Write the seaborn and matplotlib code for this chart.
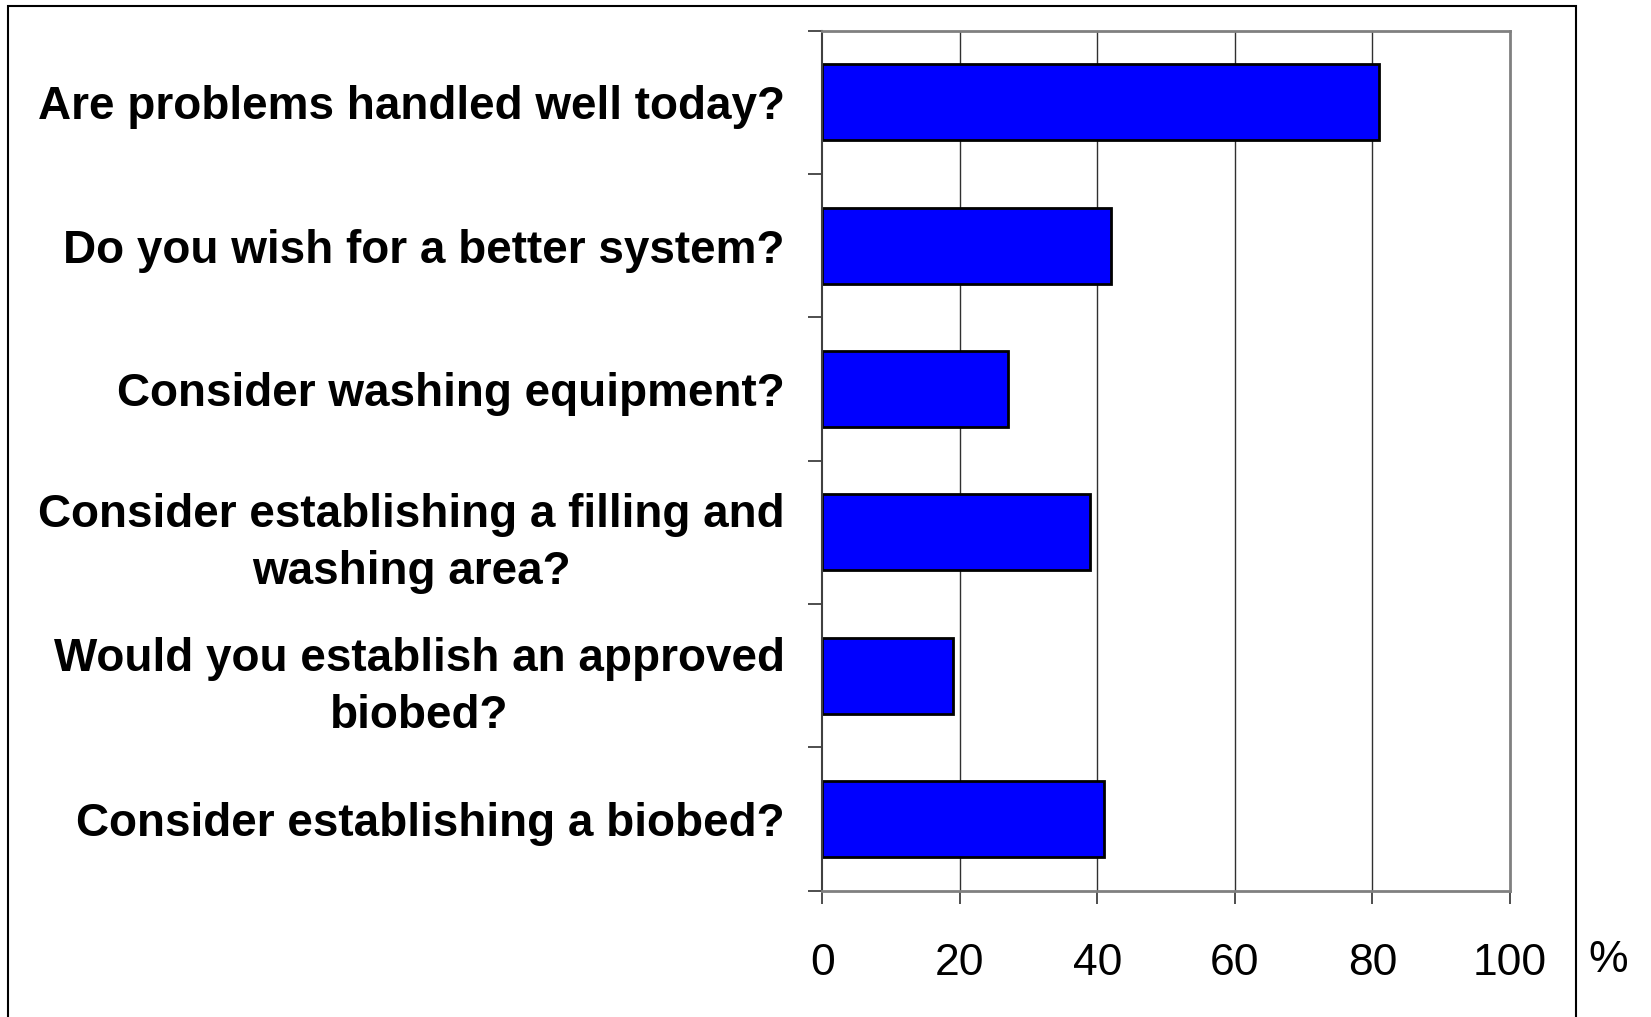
import pandas as pd
import matplotlib
matplotlib.use("Agg")
import matplotlib.pyplot as plt
import matplotlib.patches as patches
import seaborn as sns

# Data
questions = [
    "Are problems handled well today?",
    "Do you wish for a better system?",
    "Consider washing equipment?",
    "Consider establishing a filling and\nwashing area?",
    "Would you establish an approved\nbiobed?",
    "Consider establishing a biobed?",
]
percent = [81, 42, 27, 39, 19, 41]
x_ticks = [0, 20, 40, 60, 80, 100]

df = pd.DataFrame({"Question": questions, "Percent": percent})

sns.set_style("white")
plt.rcParams["font.family"] = ["Liberation Sans", "DejaVu Sans"]
plt.rcParams["text.color"] = "black"

fig = plt.figure(figsize=(16.51, 10.17), dpi=100)
ax = fig.add_axes([0.4981, 0.1242, 0.9145 - 0.4981, 0.970 - 0.1242])

sns.barplot(data=df, x="Percent", y="Question", orient="h", color="#0000FF",
            saturation=1, edgecolor="black", linewidth=2, width=0.53, ax=ax)

ax.set_xlim(0, 100)
ax.set_ylim(len(questions) - 0.5, -0.5)
ax.set_xticks(x_ticks)
ax.set_xticklabels([str(v) for v in x_ticks], fontsize=32)
ax.set_xlabel("")
ax.set_ylabel("")

# vertical grid lines
for v in x_ticks[1:-1]:
    ax.axvline(v, color="#303030", lw=1, zorder=0)

# y ticks at category boundaries
ax.set_yticks([i - 0.5 for i in range(len(questions) + 1)], minor=True)
ax.tick_params(axis="y", which="major", length=0, pad=27, labelsize=33,
               labelcolor="black")
ax.tick_params(axis="y", which="minor", length=10, width=1.2, color="#303030", left=True)
ax.tick_params(axis="x", which="major", length=9, width=1.2, color="#303030",
               bottom=True, pad=29, labelcolor="black")
for lab in ax.get_yticklabels():
    lab.set_fontweight("bold")
    lab.set_multialignment("center")
    lab.set_linespacing(1.38)

for side in ["top", "right", "bottom"]:
    ax.spines[side].set_color("#808080")
    ax.spines[side].set_linewidth(2)
ax.spines["left"].set_color("#404040")
ax.spines["left"].set_linewidth(1.5)

fig.text(0.9739, 0.0559, "%", fontsize=32, ha="center", va="center", color="black")

# outer frame
frame = patches.Rectangle((0.0051, -0.1), 0.9496, 1.0938, transform=fig.transFigure,
                          fill=False, edgecolor="black", lw=1.5, clip_on=False)
fig.patches.append(frame)

fig.savefig("out.png", dpi=100)
